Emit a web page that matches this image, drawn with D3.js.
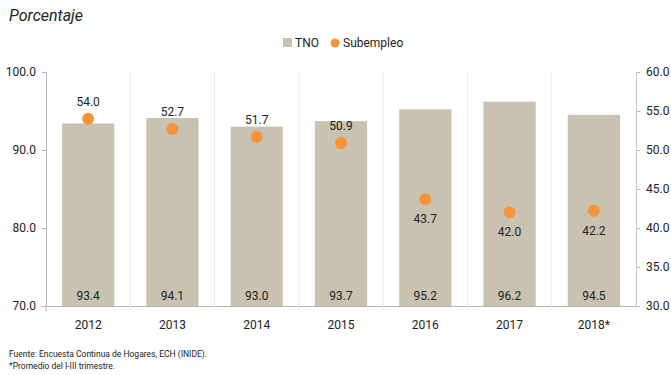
<!DOCTYPE html>
<html>
<head>
<meta charset="utf-8">
<script src="https://cdn.jsdelivr.net/npm/d3@7"></script>
<style>
  html, body { margin: 0; padding: 0; background: #fff; }
  svg { display: block; font-family: Roboto, "Liberation Sans", sans-serif; }
</style>
</head>
<body>
<svg id="chart" width="671" height="375"></svg>
<script>
// Tasa neta de ocupación (TNO) vs. subempleo, por año
const years = ["2012", "2013", "2014", "2015", "2016", "2017", "2018*"];
const tno = [93.4, 94.1, 93.0, 93.7, 95.2, 96.2, 94.5];
const subempleo = [54.0, 52.7, 51.7, 50.9, 43.7, 42.0, 42.2];
const leftTicks = [70, 80, 90, 100];
const rightTicks = [30, 35, 40, 45, 50, 55, 60];

const barColor = "#c9c2b0";
const dotColor = "#f7943a";
const axisColor = "#b5b5b5";

const svg = d3.select("#chart");
const margin = { left: 46, right: 35, top: 72, bottom: 69 };
const W = 671, H = 375;
const x0 = margin.left, x1 = W - margin.right;
const y0 = H - margin.bottom, y1 = margin.top;

const x = d3.scaleBand().domain(years).range([x0, x1]).paddingInner(0.38).paddingOuter(0.19);
const xb = d3.scaleBand().domain(years).range([x0, x1]);
const yL = d3.scaleLinear().domain([70, 100]).range([y0, y1]);
const yR = d3.scaleLinear().domain([30, 60]).range([y0, y1]);

// Title
svg.append("text").attr("x", 9).attr("y", 21)
  .attr("font-size", 16).attr("font-style", "italic").attr("fill", "#222")
  .text("Porcentaje");

// Legend
const lg = svg.append("g").attr("font-size", 12).attr("fill", "#222");
lg.append("rect").attr("x", 283).attr("y", 38).attr("width", 9).attr("height", 9).attr("fill", barColor);
lg.append("text").attr("x", 295).attr("y", 47).text("TNO");
lg.append("circle").attr("cx", 335).attr("cy", 43).attr("r", 4.5).attr("fill", dotColor);
lg.append("text").attr("x", 343).attr("y", 47).text("Subempleo");

// Bars
svg.append("g").selectAll("rect").data(years).join("rect")
  .attr("x", d => x(d)).attr("width", x.bandwidth())
  .attr("y", (d, i) => yL(tno[i]))
  .attr("height", (d, i) => y0 - yL(tno[i]))
  .attr("fill", barColor);

// Bar value labels
svg.append("g").selectAll("text").data(years).join("text")
  .attr("x", d => x(d) + x.bandwidth() / 2).attr("y", y0 - 6)
  .attr("text-anchor", "middle").attr("font-size", 12).attr("fill", "#222")
  .text((d, i) => tno[i].toFixed(1));

// Left axis
const axL = svg.append("g").attr("transform", `translate(${x0},0)`)
  .call(d3.axisLeft(yL).tickValues(leftTicks).tickFormat(d3.format(".1f")).tickSize(4).tickPadding(6));
// Right axis
const axR = svg.append("g").attr("transform", `translate(${x1},0)`)
  .call(d3.axisRight(yR).tickValues(rightTicks).tickFormat(d3.format(".1f")).tickSize(4).tickPadding(6));
// Bottom axis with category separators
const axB = svg.append("g").attr("transform", `translate(0,${y0})`)
  .call(d3.axisBottom(xb).tickSize(0).tickPadding(14));
axB.selectAll(".tick").append("line")
  .attr("x1", xb.bandwidth() / 2).attr("x2", xb.bandwidth() / 2)
  .attr("y1", -y0 + y1 + 0).attr("y2", 5)
  .attr("stroke", "#ececec");
axB.selectAll(".tick").filter((d, i) => i === 0).append("line")
  .attr("x1", -xb.bandwidth() / 2).attr("x2", -xb.bandwidth() / 2)
  .attr("y1", 0).attr("y2", 5).attr("stroke", axisColor);

[axL, axR, axB].forEach(a => {
  a.selectAll(".domain").attr("stroke", axisColor);
  a.selectAll(".tick line").filter(function () { return !this.getAttribute("stroke") || this.getAttribute("stroke") === "currentColor"; })
    .attr("stroke", axisColor);
  a.selectAll("text").attr("font-size", 12).attr("fill", "#222")
    .attr("font-family", "Roboto, sans-serif");
});
axB.select(".domain").attr("d", `M${x0 - 2},0.5H${x1 + 2}`);

// Bring bars' separators behind: draw dots after
svg.append("g").selectAll("circle").data(years).join("circle")
  .attr("cx", d => xb(d) + xb.bandwidth() / 2)
  .attr("cy", (d, i) => yR(subempleo[i]))
  .attr("r", 6).attr("fill", dotColor);

// Dot value labels: above for high values, below for low ones
svg.append("g").selectAll("text").data(years).join("text")
  .attr("x", d => xb(d) + xb.bandwidth() / 2)
  .attr("y", (d, i) => subempleo[i] > 48 ? yR(subempleo[i]) - 13 : yR(subempleo[i]) + 24)
  .attr("text-anchor", "middle").attr("font-size", 12).attr("fill", "#222")
  .text((d, i) => subempleo[i].toFixed(1));

// Source notes
const notes = svg.append("g").attr("font-size", 8.5).attr("fill", "#222");
notes.append("text").attr("x", 9).attr("y", 357).text("Fuente: Encuesta Continua de Hogares, ECH (INIDE).");
notes.append("text").attr("x", 9).attr("y", 369).text("*Promedio del I-III trimestre.");
</script>
</body>
</html>
